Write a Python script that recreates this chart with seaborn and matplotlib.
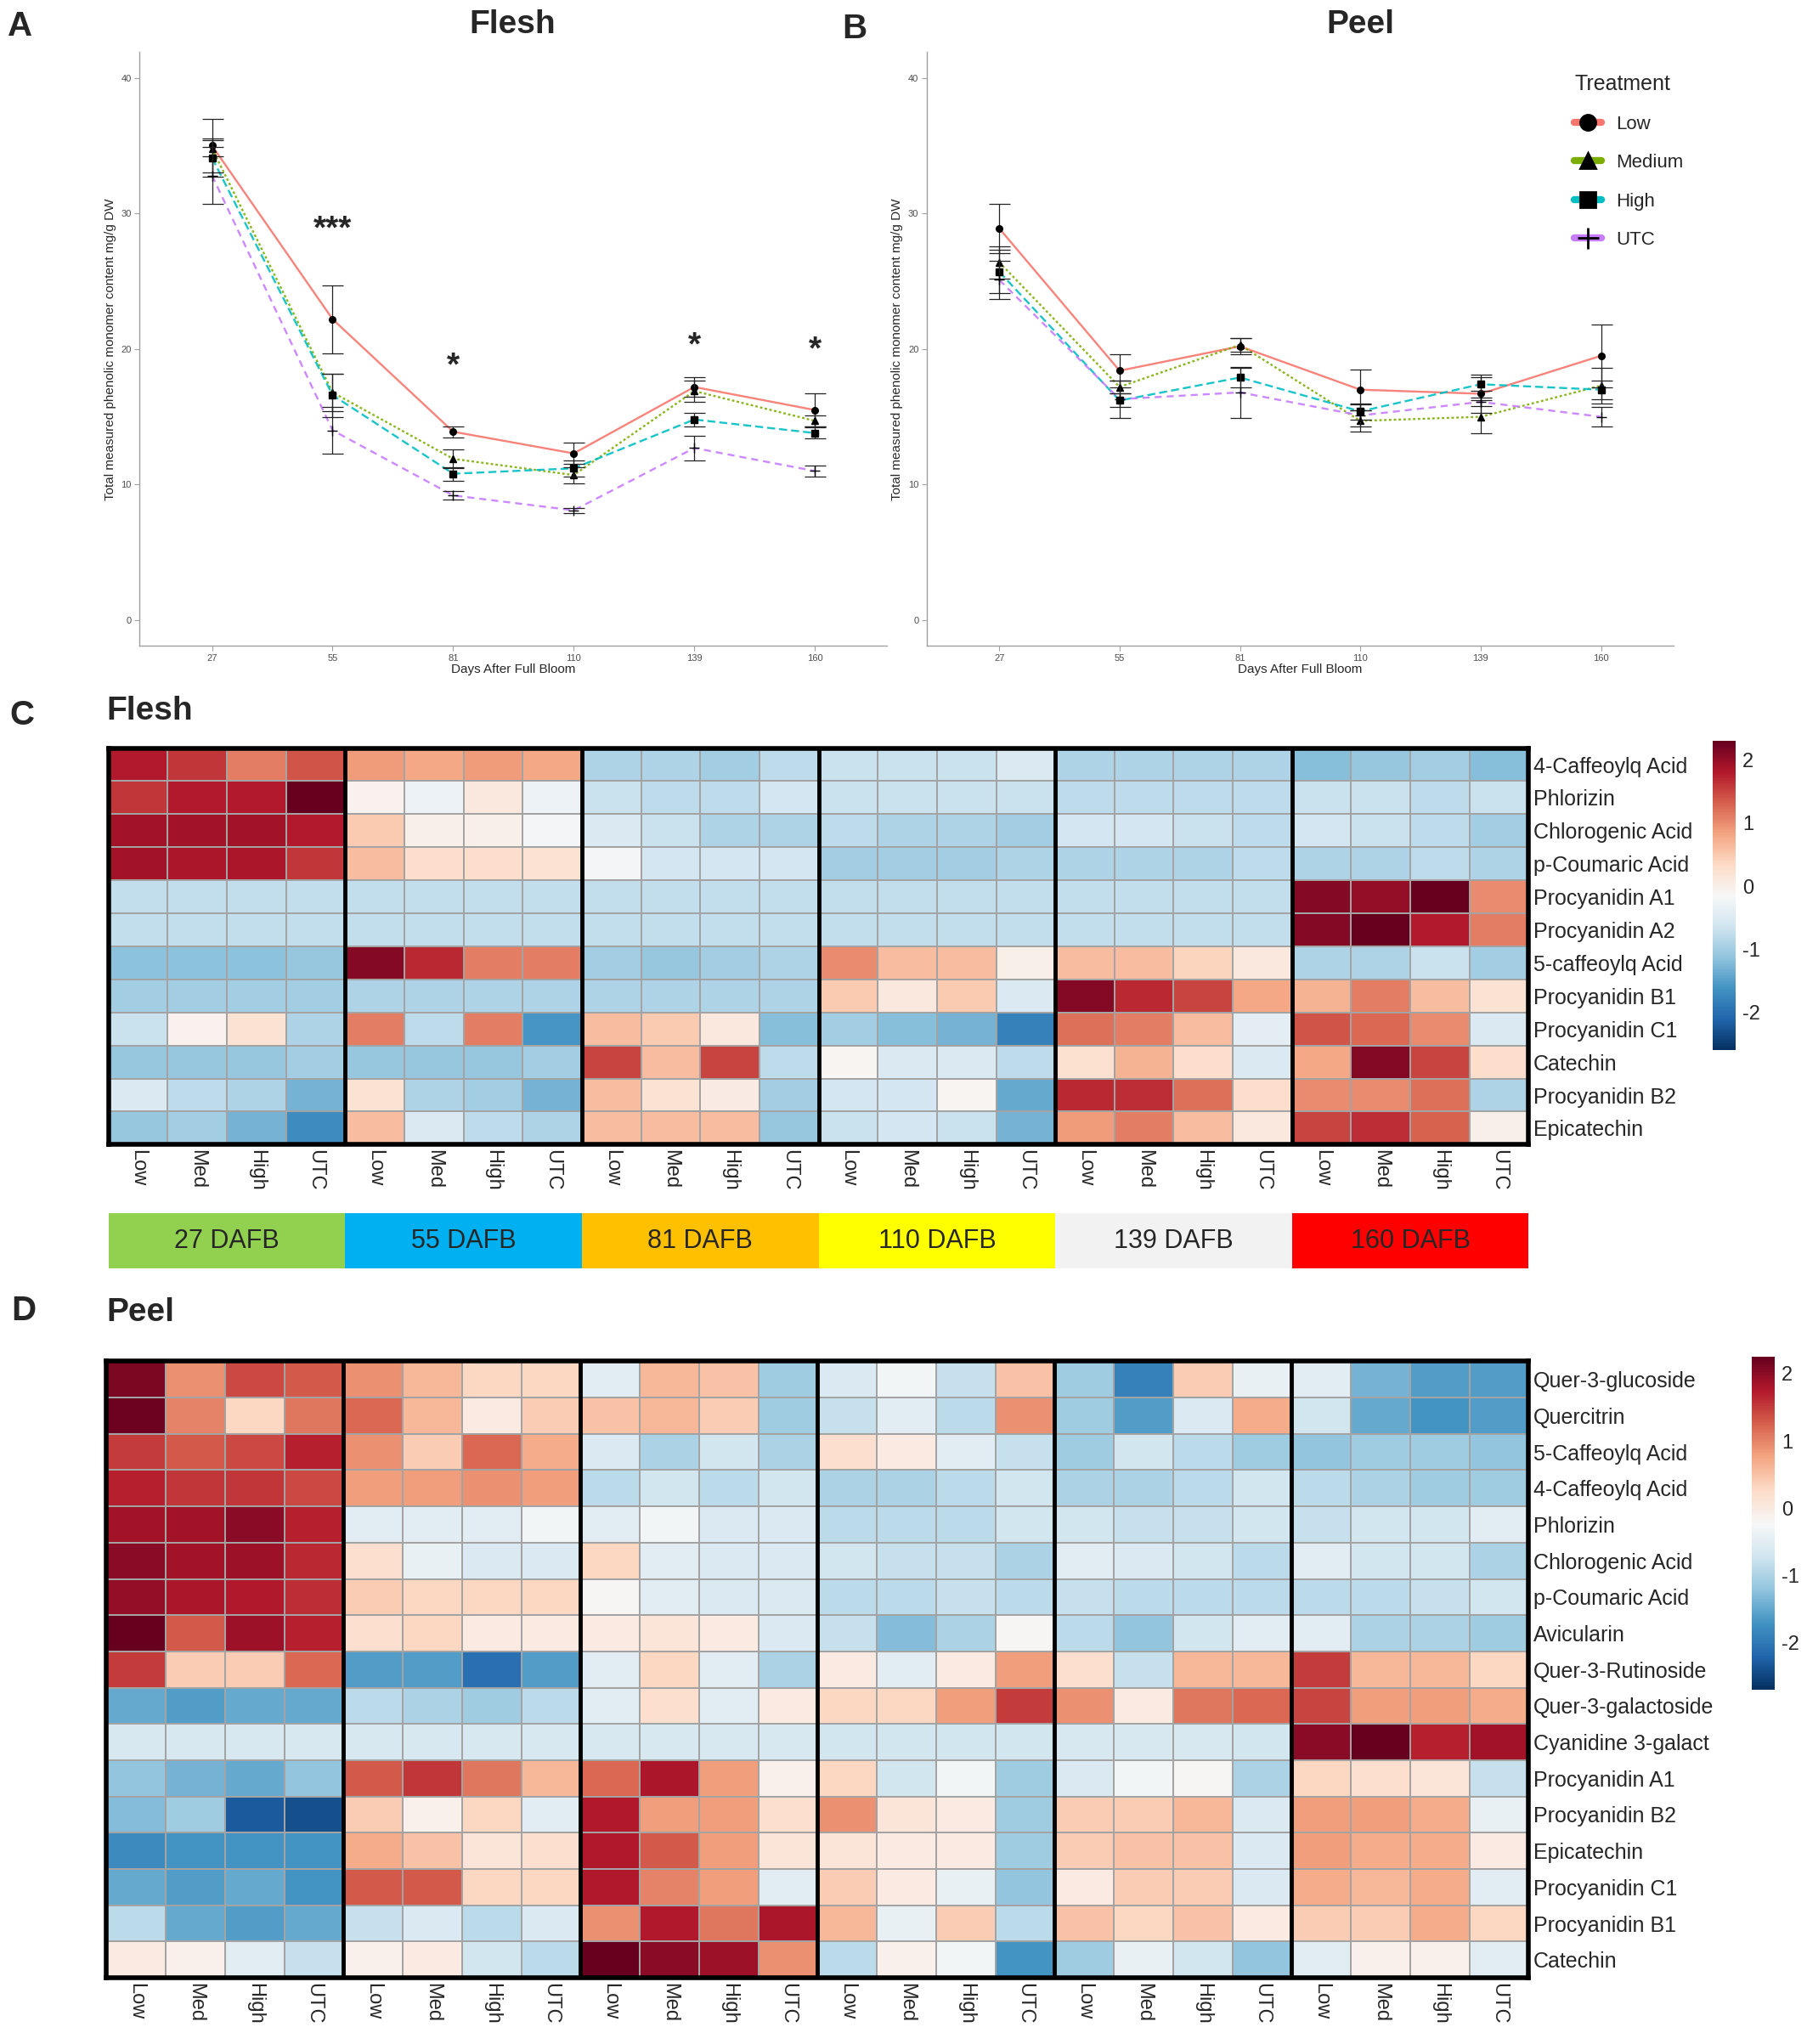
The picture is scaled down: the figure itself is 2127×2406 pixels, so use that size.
import numpy as np
import pandas as pd
import matplotlib
matplotlib.use("Agg")
import matplotlib.pyplot as plt
import seaborn as sns
from matplotlib.lines import Line2D
from matplotlib.patches import Rectangle

sns.set_theme(style="white")
plt.rcParams['font.family'] = ['Liberation Sans', 'DejaVu Sans']

# ---- line charts: total phenolic monomer content (mg/g DW) ----
days = [27, 55, 81, 110, 139, 160]
treatments = ['Low', 'Medium', 'High', 'UTC']

flesh_low = [35.0, 22.2, 13.9, 12.3, 17.2, 15.5]
flesh_med = [34.8, 16.8, 11.9, 10.7, 16.9, 14.7]
flesh_high = [34.1, 16.6, 10.8, 11.2, 14.8, 13.8]
flesh_utc = [32.8, 14.0, 9.2, 8.1, 12.7, 11.0]
flesh_low_se = [2.0, 2.5, 0.4, 0.8, 0.7, 1.2]
flesh_med_se = [0.6, 1.4, 0.7, 0.6, 0.8, 0.4]
flesh_high_se = [1.4, 1.6, 0.5, 0.6, 0.5, 0.4]
flesh_utc_se = [2.1, 1.7, 0.3, 0.2, 0.9, 0.4]

peel_low = [28.9, 18.4, 20.2, 17.0, 16.7, 19.5]
peel_med = [26.4, 17.2, 20.3, 14.7, 15.0, 17.3]
peel_high = [25.7, 16.2, 17.9, 15.4, 17.4, 17.0]
peel_utc = [25.1, 16.3, 16.8, 15.1, 16.1, 15.0]
peel_low_se = [1.8, 1.2, 0.6, 1.5, 1.4, 2.3]
peel_med_se = [1.2, 0.5, 0.5, 0.8, 1.2, 1.3]
peel_high_se = [1.6, 0.5, 0.7, 0.6, 0.5, 0.7]
peel_utc_se = [1.4, 1.4, 1.9, 0.8, 0.3, 0.7]

flesh_stars = ['', '***', '*', '', '*', '*']
flesh_star_y = [0, 28.8, 18.7, 0, 20.2, 19.9]

# ---- heatmaps (row z-scores) ----
col_labels = ['Low', 'Med', 'High', 'UTC'] * 6
dafb_labels = ['27 DAFB', '55 DAFB', '81 DAFB', '110 DAFB', '139 DAFB', '160 DAFB']
dafb_colors = ['#92D050', '#00B0F0', '#FFC000', '#FFFF00', '#F2F2F2', '#FF0000']

flesh_rows = ['4-Caffeoylq Acid', 'Phlorizin', 'Chlorogenic Acid', 'p-Coumaric Acid',
              'Procyanidin A1', 'Procyanidin A2', '5-caffeoylq Acid', 'Procyanidin B1',
              'Procyanidin C1', 'Catechin', 'Procyanidin B2', 'Epicatechin']
flesh_z = [
    [1.8, 1.6, 1.1, 1.4, 0.9, 0.8, 0.9, 0.8, -0.9, -0.9, -1.0, -0.8, -0.7, -0.7, -0.7, -0.5, -0.9, -0.9, -0.9, -0.9, -1.2, -1.1, -1.0, -1.2],
    [1.6, 1.8, 1.8, 2.3, -0.05, -0.3, 0.1, -0.3, -0.7, -0.8, -0.8, -0.6, -0.7, -0.7, -0.7, -0.7, -0.8, -0.8, -0.8, -0.8, -0.7, -0.7, -0.8, -0.7],
    [1.9, 1.9, 1.9, 1.8, 0.5, 0.0, 0.0, -0.2, -0.5, -0.7, -0.9, -0.9, -0.8, -0.9, -0.9, -1.0, -0.6, -0.6, -0.7, -0.8, -0.6, -0.7, -0.8, -1.0],
    [1.9, 1.85, 1.85, 1.6, 0.6, 0.3, 0.3, 0.2, -0.2, -0.6, -0.6, -0.6, -1.0, -1.0, -1.0, -0.9, -0.9, -0.9, -0.9, -0.8, -0.9, -0.9, -0.8, -0.9],
    [-0.75, -0.75, -0.75, -0.75, -0.75, -0.75, -0.75, -0.75, -0.75, -0.75, -0.75, -0.75, -0.75, -0.75, -0.75, -0.75, -0.75, -0.75, -0.75, -0.75, 2.1, 2.0, 2.3, 1.0],
    [-0.75, -0.75, -0.75, -0.75, -0.75, -0.75, -0.75, -0.75, -0.75, -0.75, -0.75, -0.75, -0.75, -0.75, -0.75, -0.75, -0.75, -0.75, -0.75, -0.75, 2.1, 2.4, 1.8, 1.1],
    [-1.15, -1.15, -1.15, -1.1, 2.1, 1.7, 1.1, 1.1, -1.0, -1.1, -1.0, -0.9, 1.0, 0.6, 0.6, 0.0, 0.6, 0.6, 0.4, 0.1, -0.9, -0.9, -0.7, -1.0],
    [-1.0, -1.0, -1.0, -1.0, -0.9, -0.9, -0.9, -0.9, -0.9, -0.9, -0.9, -0.9, 0.5, 0.1, 0.5, -0.5, 2.1, 1.7, 1.5, 0.8, 0.7, 1.1, 0.6, 0.2],
    [-0.7, -0.05, 0.2, -0.9, 1.1, -0.8, 1.1, -1.6, 0.6, 0.5, 0.1, -1.2, -1.0, -1.2, -1.3, -1.8, 1.2, 1.1, 0.6, -0.4, 1.4, 1.25, 1.0, -0.5],
    [-1.1, -1.1, -1.1, -1.0, -1.1, -1.1, -1.1, -1.0, 1.5, 0.6, 1.5, -0.8, -0.1, -0.5, -0.5, -0.8, 0.25, 0.7, 0.3, -0.5, 0.8, 2.1, 1.5, 0.3],
    [-0.5, -0.8, -0.9, -1.3, 0.2, -0.9, -1.0, -1.3, 0.6, 0.2, 0.05, -1.0, -0.6, -0.6, -0.1, -1.4, 1.7, 1.65, 1.2, 0.3, 1.0, 1.0, 1.2, -0.9],
    [-1.1, -1.0, -1.3, -1.7, 0.6, -0.5, -0.8, -0.9, 0.6, 0.6, 0.6, -1.1, -0.7, -0.6, -0.7, -1.3, 0.9, 1.1, 0.6, 0.1, 1.5, 1.65, 1.3, 0.0],
]

peel_rows = ['Quer-3-glucoside', 'Quercitrin', '5-Caffeoylq Acid', '4-Caffeoylq Acid',
             'Phlorizin', 'Chlorogenic Acid', 'p-Coumaric Acid', 'Avicularin',
             'Quer-3-Rutinoside', 'Quer-3-galactoside', 'Cyanidine 3-galact',
             'Procyanidin A1', 'Procyanidin B2', 'Epicatechin', 'Procyanidin C1',
             'Procyanidin B1', 'Catechin']
peel_z = [
    [2.1, 0.9, 1.4, 1.3, 0.9, 0.6, 0.3, 0.3, -0.5, 0.6, 0.5, -1.1, -0.6, -0.3, -0.8, 0.5, -1.1, -1.9, 0.4, -0.4, -0.5, -1.4, -1.6, -1.6],
    [2.2, 1.0, 0.3, 1.1, 1.2, 0.6, 0.0, 0.4, 0.5, 0.6, 0.4, -1.1, -0.8, -0.5, -0.9, 0.9, -1.1, -1.6, -0.6, 0.7, -0.7, -1.5, -1.7, -1.6],
    [1.5, 1.3, 1.4, 1.7, 0.9, 0.4, 1.2, 0.7, -0.6, -1.0, -0.7, -1.0, 0.2, 0.0, -0.5, -0.8, -1.1, -0.7, -0.9, -1.1, -1.2, -1.1, -1.1, -1.2],
    [1.7, 1.55, 1.55, 1.4, 0.8, 0.8, 0.9, 0.8, -0.9, -0.7, -0.9, -0.7, -1.0, -1.0, -0.9, -0.7, -1.0, -1.0, -0.9, -0.7, -0.9, -1.0, -1.1, -1.1],
    [1.85, 1.85, 2.0, 1.7, -0.5, -0.5, -0.5, -0.3, -0.5, -0.3, -0.6, -0.6, -0.9, -0.9, -0.9, -0.7, -0.7, -0.8, -0.8, -0.7, -0.8, -0.7, -0.7, -0.5],
    [2.0, 1.85, 1.9, 1.65, 0.2, -0.4, -0.6, -0.6, 0.3, -0.5, -0.6, -0.6, -0.7, -0.8, -0.8, -1.0, -0.5, -0.6, -0.7, -0.9, -0.5, -0.7, -0.7, -1.0],
    [1.95, 1.8, 1.75, 1.6, 0.4, 0.3, 0.3, 0.3, -0.2, -0.5, -0.6, -0.6, -0.9, -0.9, -0.8, -0.9, -0.8, -0.9, -0.9, -0.9, -0.9, -0.9, -0.8, -0.7],
    [2.3, 1.3, 1.9, 1.7, 0.2, 0.3, 0.0, 0.0, 0.0, 0.1, 0.0, -0.6, -0.8, -1.3, -1.0, -0.2, -0.9, -1.2, -0.7, -0.5, -0.5, -1.0, -1.0, -1.1],
    [1.5, 0.4, 0.4, 1.2, -1.6, -1.6, -2.1, -1.6, -0.5, 0.3, -0.5, -1.0, 0.0, -0.5, 0.0, 0.8, 0.2, -0.8, 0.6, 0.6, 1.5, 0.6, 0.6, 0.3],
    [-1.5, -1.6, -1.5, -1.5, -0.9, -1.0, -1.1, -0.9, -0.5, 0.2, -0.5, 0.0, 0.3, 0.3, 0.8, 1.5, 0.9, 0.0, 1.1, 1.2, 1.45, 0.8, 0.8, 0.7],
    [-0.65, -0.65, -0.65, -0.65, -0.65, -0.65, -0.65, -0.65, -0.65, -0.65, -0.65, -0.65, -0.7, -0.7, -0.7, -0.7, -0.65, -0.65, -0.65, -0.7, 2.0, 2.3, 1.7, 1.85],
    [-1.2, -1.4, -1.5, -1.2, 1.3, 1.55, 1.1, 0.6, 1.2, 1.8, 0.8, -0.1, 0.3, -0.7, -0.3, -1.1, -0.6, -0.3, -0.2, -1.0, 0.3, 0.2, 0.1, -0.8],
    [-1.3, -1.1, -2.3, -2.4, 0.4, -0.1, 0.3, -0.5, 1.75, 0.8, 0.8, 0.2, 0.9, 0.1, 0.0, -1.1, 0.4, 0.4, 0.6, -0.6, 0.8, 0.8, 0.7, -0.4],
    [-1.8, -1.7, -1.7, -1.7, 0.7, 0.5, 0.1, 0.2, 1.75, 1.3, 0.8, 0.1, 0.1, 0.0, 0.0, -1.1, 0.4, 0.5, 0.5, -0.6, 0.8, 0.7, 0.7, 0.0],
    [-1.5, -1.6, -1.5, -1.7, 1.3, 1.3, 0.3, 0.3, 1.75, 1.0, 0.8, -0.5, 0.4, 0.0, -0.4, -1.2, 0.0, 0.4, 0.4, -0.6, 0.7, 0.6, 0.7, -0.5],
    [-0.9, -1.5, -1.6, -1.5, -0.8, -0.6, -0.9, -0.6, 0.9, 1.75, 1.1, 1.8, 0.6, -0.4, 0.4, -0.9, 0.5, 0.3, 0.5, 0.0, 0.4, 0.4, 0.7, 0.3],
    [0.0, -0.1, -0.5, -0.8, -0.1, 0.0, -0.7, -0.9, 2.25, 2.0, 1.9, 0.9, -0.9, -0.1, -0.3, -1.7, -1.1, -0.4, -0.7, -1.2, -0.5, -0.1, -0.1, -0.5],
]

palette = {'Low': '#F8766D', 'Medium': '#7CAE00', 'High': '#00BFC4', 'UTC': '#C77CFF'}
dashes = {'Low': '', 'Medium': (1.2, 1.2), 'High': (4, 2), 'UTC': (3.5, 2.5)}
markers = {'Low': 'o', 'Medium': '^', 'High': 's', 'UTC': '+'}


def long_df(means, errs):
    rows = []
    for t in treatments:
        for i, d in enumerate(days):
            rows.append({'Treatment': t, 'pos': i, 'day': d,
                         'mean': means[t][i], 'se': errs[t][i]})
    return pd.DataFrame(rows)


flesh_df = long_df({'Low': flesh_low, 'Medium': flesh_med, 'High': flesh_high, 'UTC': flesh_utc},
                   {'Low': flesh_low_se, 'Medium': flesh_med_se, 'High': flesh_high_se, 'UTC': flesh_utc_se})
peel_df = long_df({'Low': peel_low, 'Medium': peel_med, 'High': peel_high, 'UTC': peel_utc},
                  {'Low': peel_low_se, 'Medium': peel_med_se, 'High': peel_high_se, 'UTC': peel_utc_se})


def line_panel(ax, df):
    sns.lineplot(data=df, x='pos', y='mean', hue='Treatment', style='Treatment',
                 hue_order=treatments, style_order=treatments, palette=palette,
                 dashes=dashes, lw=1.7, alpha=0.9, errorbar=None, legend=False, ax=ax)
    for t in treatments:
        sub = df[df['Treatment'] == t]
        ax.errorbar(sub['pos'], sub['mean'], yerr=sub['se'], fmt='none',
                    ecolor='#222222', elinewidth=0.9, capsize=9, capthick=0.9)
        ax.plot(sub['pos'], sub['mean'], ls='none', marker=markers[t], color='black',
                ms=5.5 if t != 'UTC' else 9, mew=1.0)
    ax.set_xlim(-0.6, 5.6)
    ax.set_ylim(-1.9, 41.9)
    ax.set_xticks(range(len(days)))
    ax.set_xticklabels([str(d) for d in days])
    ax.set_yticks([0, 10, 20, 30, 40])
    ax.set_xlabel('Days After Full Bloom', fontsize=11, labelpad=1)
    ax.set_ylabel('Total measured phenolic monomer content mg/g DW', fontsize=11, labelpad=4)
    sns.despine(ax=ax)
    for s in ['left', 'bottom']:
        ax.spines[s].set_color('#A0A0A0')
        ax.spines[s].set_linewidth(1.0)
    ax.tick_params(axis='both', length=4, width=0.8, color='#A0A0A0',
                   labelsize=8, labelcolor='#4D4D4D', pad=3, bottom=True, left=True)


fig = plt.figure(figsize=(21.27, 24.06), dpi=100)

axA = fig.add_axes([0.0773, 0.684, 0.4137, 0.2905])
line_panel(axA, flesh_df)
for i, st in enumerate(flesh_stars):
    if st:
        axA.text(i, flesh_star_y[i], st, ha='center', va='center', fontsize=28, fontweight='bold')

axB = fig.add_axes([0.513, 0.684, 0.413, 0.2905])
line_panel(axB, peel_df)

handles = [Line2D([0], [0], color=palette[t], lw=6, marker=markers[t], mfc='black', mec='black',
                  ms=13 if t != 'UTC' else 18, mew=2) for t in treatments]
leg = fig.legend(handles, treatments, title='Treatment', loc='upper left',
                 bbox_to_anchor=(0.862, 0.972), frameon=False, fontsize=16, title_fontsize=18,
                 handlelength=1.4, labelspacing=1.1, alignment='left')

fig.text(0.2837, 0.988, 'Flesh', ha='center', va='center', fontsize=28, fontweight='bold')
fig.text(0.753, 0.988, 'Peel', ha='center', va='center', fontsize=28, fontweight='bold')
fig.text(0.011, 0.987, 'A', ha='center', va='center', fontsize=29, fontweight='bold')
fig.text(0.473, 0.986, 'B', ha='center', va='center', fontsize=29, fontweight='bold')
fig.text(0.012, 0.650, 'C', ha='center', va='center', fontsize=29, fontweight='bold')
fig.text(0.013, 0.3586, 'D', ha='center', va='center', fontsize=29, fontweight='bold')
fig.text(0.059, 0.652, 'Flesh', ha='left', va='center', fontsize=28, fontweight='bold')
fig.text(0.059, 0.358, 'Peel', ha='left', va='center', fontsize=28, fontweight='bold')


def heat_panel(ax, cax, data, rows, vmin, vmax):
    sns.heatmap(np.array(data), ax=ax, cbar_ax=cax, cmap='RdBu_r', vmin=vmin, vmax=vmax,
                linewidths=1.3, linecolor='#A3A3A3', xticklabels=col_labels, yticklabels=rows,
                cbar_kws={'ticks': [-2, -1, 0, 1, 2]})
    ax.yaxis.tick_right()
    ax.set_yticklabels(rows, rotation=0, fontsize=18, ha='left')
    ax.set_xticklabels(col_labels, rotation=270, fontsize=17, va='top')
    ax.tick_params(axis='both', length=0, pad=4)
    for k in range(1, 6):
        ax.axvline(4 * k, color='black', lw=3.5)
    for s in ax.spines.values():
        s.set_visible(True)
        s.set_color('black')
        s.set_linewidth(4)
    cb = ax.collections[0].colorbar
    cb.outline.set_visible(False)
    cb.set_ticklabels(['-2', '-1', '0', '1', '2'])
    cax.tick_params(length=0, labelsize=17, pad=6)


axC = fig.add_axes([0.060, 0.440, 0.786, 0.194])
caxC = fig.add_axes([0.948, 0.4862, 0.0123, 0.1513])
heat_panel(axC, caxC, flesh_z, flesh_rows, -2.6, 2.3)

axBar = fig.add_axes([0.060, 0.3795, 0.786, 0.0269])
for i, (lab, colr) in enumerate(zip(dafb_labels, dafb_colors)):
    axBar.add_patch(Rectangle((i * 4, 0), 4, 1, facecolor=colr, edgecolor='none'))
    axBar.text(i * 4 + 2, 0.5, lab, ha='center', va='center', fontsize=22)
axBar.set_xlim(0, 24)
axBar.set_ylim(0, 1)
axBar.axis('off')

axD = fig.add_axes([0.059, 0.0324, 0.787, 0.3016])
caxD = fig.add_axes([0.9696, 0.1733, 0.0123, 0.1629])
heat_panel(axD, caxD, peel_z, peel_rows, -2.7, 2.25)

fig.savefig('out.png', dpi=100, facecolor='white')
